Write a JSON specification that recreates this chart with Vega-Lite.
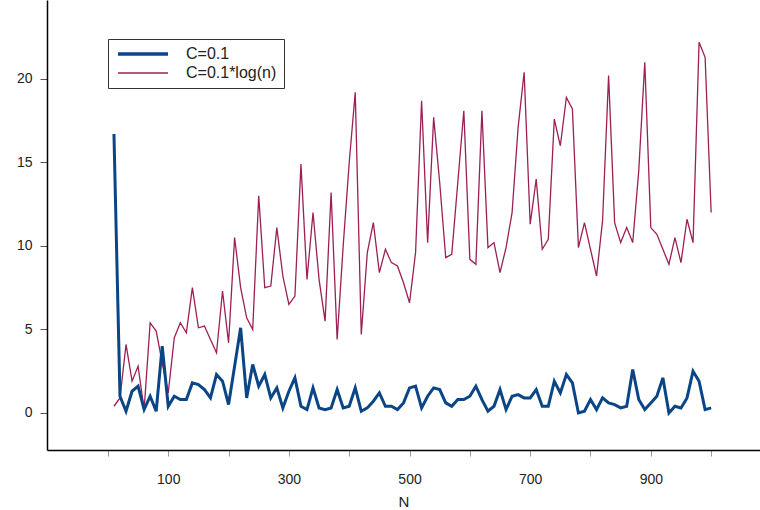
{
  "$schema": "https://vega.github.io/schema/vega-lite/v6.json",
  "autosize": {"type": "none"},
  "width": 713,
  "height": 450,
  "padding": {"left": 47, "top": 0, "right": 0, "bottom": 60},
  "background": "white",
  "config": {"view": {"stroke": null}, "font": "Liberation Sans"},
  "datasets": {
    "a": [
      [10,16.7],[20,1.0],[30,0.1],[40,1.3],[50,1.6],[60,0.2],[70,1.0],[80,0.1],[90,4.0],[100,0.4],
      [110,1.0],[120,0.8],[130,0.8],[140,1.8],[150,1.7],[160,1.4],[170,0.9],[180,2.3],[190,1.9],[200,0.5],
      [210,2.8],[220,5.1],[230,0.9],[240,2.9],[250,1.6],[260,2.3],[270,0.9],[280,1.5],[290,0.3],[300,1.3],
      [310,2.1],[320,0.4],[330,0.2],[340,1.5],[350,0.3],[360,0.2],[370,0.3],[380,1.4],[390,0.3],[400,0.4],
      [410,1.5],[420,0.1],[430,0.3],[440,0.7],[450,1.2],[460,0.4],[470,0.4],[480,0.2],[490,0.6],[500,1.5],
      [510,1.6],[520,0.3],[530,1.0],[540,1.5],[550,1.4],[560,0.6],[570,0.4],[580,0.8],[590,0.8],[600,1.0],
      [610,1.6],[620,0.8],[630,0.1],[640,0.4],[650,1.4],[660,0.2],[670,1.0],[680,1.1],[690,0.9],[700,0.9],
      [710,1.4],[720,0.4],[730,0.4],[740,1.9],[750,1.2],[760,2.3],[770,1.8],[780,0.0],[790,0.1],[800,0.8],
      [810,0.2],[820,0.9],[830,0.6],[840,0.5],[850,0.3],[860,0.4],[870,2.6],[880,0.8],[890,0.2],[900,0.6],
      [910,1.0],[920,2.1],[930,0.0],[940,0.4],[950,0.3],[960,0.9],[970,2.5],[980,1.9],[990,0.2],[1000,0.3]
    ],
    "b": [
      [10,0.4],[20,0.9],[30,4.1],[40,1.9],[50,2.8],[60,0.2],[70,5.4],[80,4.9],[90,3.0],[100,1.2],
      [110,4.5],[120,5.4],[130,4.8],[140,7.5],[150,5.1],[160,5.2],[170,4.4],[180,3.6],[190,7.3],[200,4.2],
      [210,10.5],[220,7.5],[230,5.7],[240,5.0],[250,13.0],[260,7.5],[270,7.6],[280,11.1],[290,8.2],[300,6.5],
      [310,7.0],[320,14.9],[330,8.0],[340,12.0],[350,8.0],[360,5.5],[370,13.2],[380,4.4],[390,10.0],[400,15.0],
      [410,19.2],[420,4.7],[430,9.6],[440,11.4],[450,8.4],[460,9.8],[470,9.0],[480,8.8],[490,7.8],[500,6.6],
      [510,9.6],[520,18.7],[530,10.2],[540,17.7],[550,13.8],[560,9.3],[570,9.5],[580,13.8],[590,18.1],[600,9.2],
      [610,8.9],[620,18.1],[630,9.9],[640,10.2],[650,8.4],[660,9.9],[670,12.0],[680,17.1],[690,20.4],[700,11.3],
      [710,14.0],[720,9.8],[730,10.4],[740,17.6],[750,16.0],[760,18.9],[770,18.2],[780,9.9],[790,11.4],[800,9.8],
      [810,8.2],[820,11.5],[830,20.2],[840,11.4],[850,10.2],[860,11.1],[870,10.2],[880,14.5],[890,21.0],[900,11.1],
      [910,10.7],[920,9.8],[930,8.9],[940,10.5],[950,9.0],[960,11.6],[970,10.2],[980,22.2],[990,21.3],[1000,12.0]
    ]
  },
  "layer": [
    {
      "data": {"name": "b"},
      "mark": {"type": "line", "strokeWidth": 1.3, "color": "#9c1f56", "clip": true},
      "encoding": {
        "x": {"field": "0", "type": "quantitative"},
        "y": {"field": "1", "type": "quantitative"},
        "color": {"datum": "C=0.1*log(n)"}
      }
    },
    {
      "data": {"name": "a"},
      "mark": {"type": "line", "strokeWidth": 3, "color": "#0a4586", "clip": true},
      "encoding": {
        "x": {
          "field": "0", "type": "quantitative", "title": "N",
          "scale": {"domain": [-101, 1081], "nice": false, "zero": false},
          "axis": {
            "values": [0,100,200,300,400,500,600,700,800,900,1000],
            "labelExpr": "datum.value % 200 == 100 ? datum.label : ''",
            "grid": false, "domainColor": "#000", "domainWidth": 1.5,
            "tickColor": "#999", "tickSize": 6, "labelPadding": 16,
            "labelFontSize": 14, "labelColor": "#222", "labelFont": "Liberation Sans",
            "titleFontSize": 15, "titleFontWeight": "normal", "titleColor": "#222", "titlePadding": 8, "titleFont": "Liberation Sans"
          }
        },
        "y": {
          "field": "1", "type": "quantitative", "title": null,
          "scale": {"domain": [-2.22, 24.73], "nice": false, "zero": false},
          "axis": {
            "values": [0,5,10,15,20],
            "grid": false, "domainColor": "#000", "domainWidth": 1.5,
            "tickColor": "#555", "tickSize": 7, "labelPadding": 8,
            "labelFontSize": 14, "labelColor": "#222", "labelFont": "Liberation Sans"
          }
        },
        "color": {
          "datum": "C=0.1",
          "scale": {"domain": ["C=0.1", "C=0.1*log(n)"], "range": ["#0a4586", "#9c1f56"]},
          "legend": {
            "title": null, "orient": "none", "legendX": 61, "legendY": 39,
            "symbolType": "stroke", "symbolSize": 2500, "symbolStrokeWidth": 2, "symbolOffset": 20,
            "labelFontSize": 16, "labelFont": "Liberation Sans", "labelColor": "#222", "labelOffset": 35,
            "rowPadding": 3, "padding": 7, "strokeColor": "#333",
            "encode": {"symbols": {"update": {"strokeWidth": {"signal": "datum.label == 'C=0.1' ? 3.5 : 1.3"}}}}
          }
        }
      }
    }
  ]
}
